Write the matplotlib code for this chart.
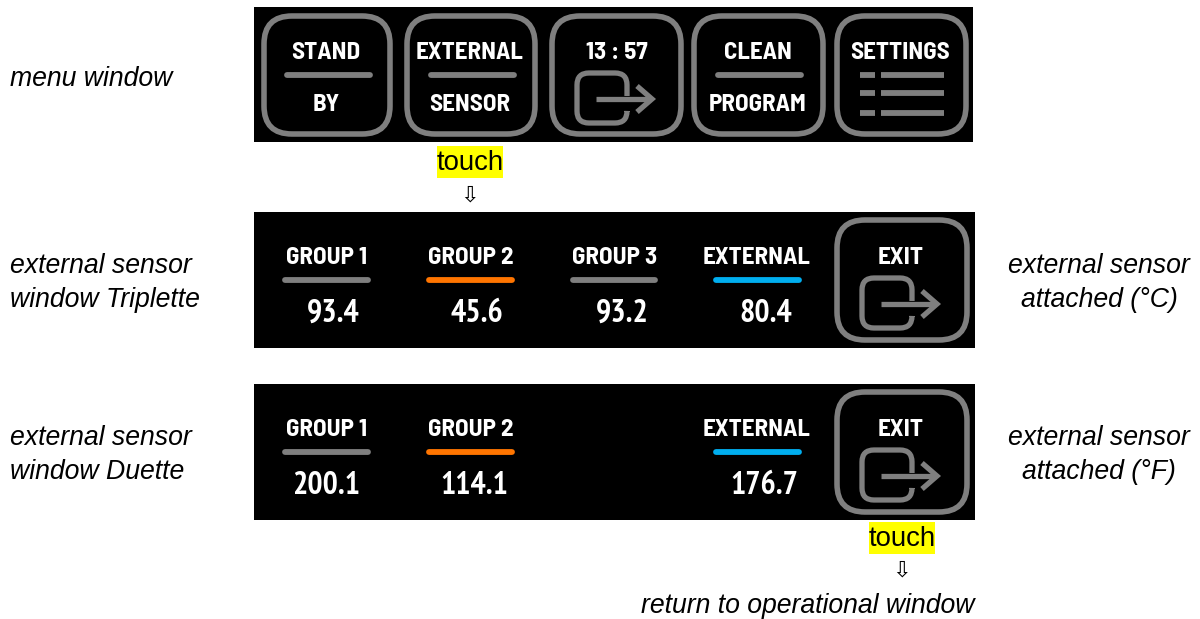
import matplotlib
matplotlib.use('Agg')
import matplotlib.pyplot as plt
from matplotlib.patches import FancyBboxPatch, PathPatch, Rectangle
from matplotlib.path import Path

# Text and readings shown on the panels
menu_top = ['STAND', 'EXTERNAL', '13 : 57', 'CLEAN', 'SETTINGS']
menu_bottom = ['BY', 'SENSOR', '', 'PROGRAM', '']
triplette_labels = ['GROUP 1', 'GROUP 2', 'GROUP 3', 'EXTERNAL']
triplette_values = ['93.4', '45.6', '93.2', '80.4']
duette_labels = ['GROUP 1', 'GROUP 2', 'EXTERNAL']
duette_values = ['200.1', '114.1', '176.7']

GRAY = '#7f7f7f'
ORANGE = '#ff7500'
BLUE = '#00aeef'
LABEL_FONT = ['Barlow Semi Condensed', 'PT Sans Narrow', 'Liberation Sans']
VALUE_FONT = ['PT Sans Narrow', 'Barlow Semi Condensed', 'Liberation Sans']
ITALIC_SIZE = 19.2

fig = plt.figure(figsize=(12, 6.19), dpi=100)
ax = fig.add_axes([0, 0, 1, 1])
ax.set_xlim(0, 1200)
ax.set_ylim(619, 0)
ax.axis('off')


def panel(x0, y0, x1, y1):
    ax.add_patch(Rectangle((x0, y0), x1 - x0, y1 - y0, facecolor='black', edgecolor='none'))


def button(x0, y0, x1, y1):
    ax.add_patch(FancyBboxPatch((x0 + 20, y0 + 20), x1 - x0 - 40, y1 - y0 - 40,
                                boxstyle='round,pad=20,rounding_size=28',
                                facecolor='none', edgecolor=GRAY, linewidth=4))


def bar(x0, x1, y, color=GRAY):
    ax.plot([x0, x1], [y, y], color=color, linewidth=4.2, solid_capstyle='round')


def label(x, y, s):
    ax.text(x, y + 2, s, color='white', fontsize=18, fontweight='bold', family=LABEL_FONT,
            ha='center', va='center')


def value(x, y, s):
    ax.text(x, y + 3, s, color='white', fontsize=23, fontweight='bold', family=VALUE_FONT,
            ha='center', va='center')


def exit_icon(x, y):
    # x, y = top left corner of the door
    w, h = 50, 50
    r = 12
    verts = [(x + w, y + 23), (x + w, y + r), (x + w, y), (x + w - r, y), (x + r, y),
             (x, y), (x, y + r), (x, y + h - r), (x, y + h), (x + r, y + h),
             (x + w - r, y + h), (x + w, y + h), (x + w, y + h - r), (x + w, y + 39)]
    codes = [Path.MOVETO, Path.LINETO, Path.CURVE3, Path.CURVE3, Path.LINETO,
             Path.CURVE3, Path.CURVE3, Path.LINETO, Path.CURVE3, Path.CURVE3,
             Path.LINETO, Path.CURVE3, Path.CURVE3, Path.LINETO]
    ax.add_patch(PathPatch(Path(verts, codes), facecolor='none', edgecolor=GRAY,
                           linewidth=3.8, capstyle='butt'))
    ax.plot([x + 19, x + 74], [y + 26, y + 26], color=GRAY, linewidth=3.8, solid_capstyle='butt')
    ax.plot([x + 60, x + 75, x + 60], [y + 13, y + 26, y + 39], color=GRAY, linewidth=3.8,
            solid_joinstyle='miter', solid_capstyle='butt')


def note(x, y, s, ha='left', align='left'):
    ax.text(x, y + 2, s, fontsize=ITALIC_SIZE, style='italic', family='Liberation Sans',
            color='black', ha=ha, va='center', linespacing=1.36, multialignment=align)


def touch(x, y):
    ax.add_patch(Rectangle((x - 33, y - 16), 66, 32, facecolor='#ffff00', edgecolor='none'))
    ax.text(x, y + 1, 'touch', fontsize=19.8, family='Liberation Sans', color='black',
            ha='center', va='center')


# menu window
panel(254, 7, 973, 142)
menu_x = [(262, 392), (405, 537), (550, 683), (692, 825), (835, 968)]
menu_text_x = [326, 470, 617, 758, 900]
menu_bar = [(287, 370), (431, 514), None, (718, 801), None]
for i in range(5):
    button(menu_x[i][0] + 2, 16, menu_x[i][1] - 2, 134)
    label(menu_text_x[i], 51, menu_top[i])
    if menu_bottom[i]:
        label(menu_text_x[i], 103, menu_bottom[i])
    if menu_bar[i]:
        bar(menu_bar[i][0], menu_bar[i][1], 75)
exit_icon(577, 73)
for y in [75, 93, 113]:
    ax.plot([860, 875], [y, y], color=GRAY, linewidth=4.2, solid_capstyle='butt')
    ax.plot([881, 944], [y, y], color=GRAY, linewidth=4.2, solid_capstyle='butt')

# Triplette window
panel(254, 212, 975, 348)
button(837, 220, 967, 340)
label(901, 256, 'EXIT')
exit_icon(862, 278)
trip_label_x = [327, 471, 615, 757]
trip_value_x = [333, 477, 622, 766]
trip_bar = [(285, 368), (429, 512), (573, 655), (716, 799)]
trip_color = [GRAY, ORANGE, GRAY, BLUE]
for i in range(4):
    label(trip_label_x[i], 256, triplette_labels[i])
    bar(trip_bar[i][0], trip_bar[i][1], 280, trip_color[i])
    value(trip_value_x[i], 311, triplette_values[i])

# Duette window
panel(254, 384, 975, 520)
button(837, 392, 967, 512)
label(901, 428, 'EXIT')
exit_icon(862, 450)
duet_label_x = [327, 471, 757]
duet_value_x = [326, 474, 764]
duet_bar = [(285, 368), (429, 512), (716, 799)]
duet_color = [GRAY, ORANGE, BLUE]
for i in range(3):
    label(duet_label_x[i], 428, duette_labels[i])
    bar(duet_bar[i][0], duet_bar[i][1], 452, duet_color[i])
    value(duet_value_x[i], 483, duette_values[i])

# notes left and right of the panels
note(10, 77, 'menu window')
note(10, 281, 'external sensor\nwindow Triplette')
note(10, 453, 'external sensor\nwindow Duette')
note(1190, 281, 'external sensor\nattached (°C)', ha='right', align='center')
note(1190, 453, 'external sensor\nattached (°F)', ha='right', align='center')

touch(470, 162)
touch(902, 538)
ax.text(470, 196, '⇩', fontsize=16, family='DejaVu Sans', ha='center', va='center')
ax.text(902, 571, '⇩', fontsize=16, family='DejaVu Sans', ha='center', va='center')
note(808, 604, 'return to operational window', ha='center')

fig.savefig('out.png', dpi=100)
